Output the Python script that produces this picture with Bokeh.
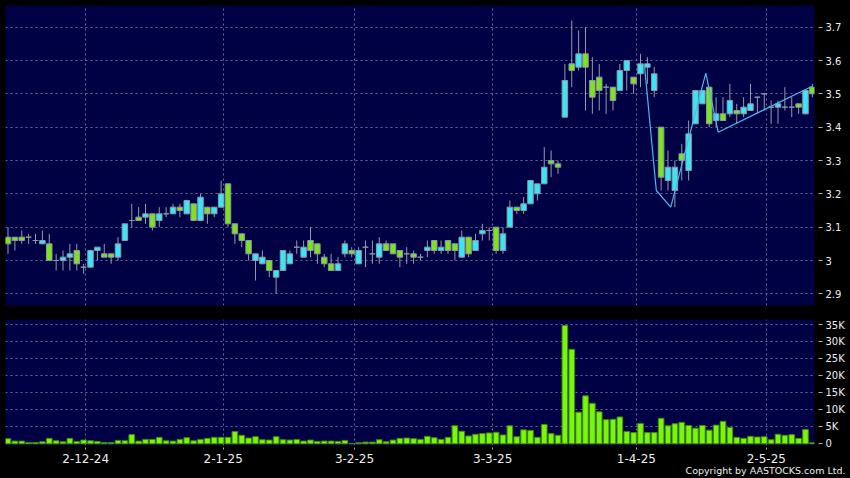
from bokeh.plotting import figure
from bokeh.layouts import column
from bokeh.models import Range1d, FixedTicker, CustomJSTickFormatter, Title
from bokeh.embed import file_html
from bokeh.resources import INLINE

# ---------------- data ----------------
opens = [3.07, 3.07, 3.07, 3.07, 3.06, 3.05, 3.05, 3.00, 3.00, 3.01,
         3.03, 2.98, 2.98, 3.03, 3.02, 3.02, 3.01, 3.06, 3.12, 3.13,
         3.13, 3.14, 3.12, 3.14, 3.14, 3.16, 3.14, 3.17, 3.12, 3.16,
         3.14, 3.16, 3.23, 3.11, 3.08, 3.06, 3.00, 2.99, 3.00, 2.95,
         2.97, 2.99, 3.04, 3.01, 3.06, 3.05, 3.01, 2.99, 2.97, 3.02,
         3.03, 2.99, 3.04, 3.02, 3.01, 3.05, 3.05, 3.03, 3.02, 3.02,
         3.01, 3.03, 3.06, 3.03, 3.06, 3.05, 3.01, 3.07, 3.03, 3.08,
         3.09, 3.10, 3.03, 3.10, 3.16, 3.15, 3.17, 3.20, 3.23, 3.30,
         3.29, 3.43, 3.59, 3.58, 3.62, 3.54, 3.55, 3.52, 3.52, 3.51,
         3.57, 3.55, 3.56, 3.58, 3.51, 3.40, 3.24, 3.21, 3.32, 3.27,
         3.41, 3.47, 3.52, 3.42, 3.44, 3.44, 3.45, 3.44, 3.45, 3.49,
         3.50, 3.46, 3.46, 3.46, 3.46, 3.47, 3.44, 3.52]
highs = [3.10, 3.07, 3.09, 3.08, 3.08, 3.09, 3.08, 3.02, 3.03, 3.05,
         3.05, 2.99, 3.03, 3.04, 3.05, 3.02, 3.07, 3.11, 3.17, 3.16,
         3.17, 3.14, 3.16, 3.16, 3.17, 3.17, 3.18, 3.17, 3.20, 3.16,
         3.16, 3.24, 3.23, 3.11, 3.08, 3.06, 3.02, 3.03, 3.00, 2.97,
         3.03, 3.03, 3.06, 3.06, 3.10, 3.05, 3.02, 3.02, 3.01, 3.06,
         3.04, 3.04, 3.06, 3.06, 3.07, 3.06, 3.05, 3.03, 3.04, 3.03,
         3.02, 3.06, 3.06, 3.06, 3.06, 3.05, 3.09, 3.07, 3.08, 3.11,
         3.10, 3.10, 3.10, 3.18, 3.16, 3.19, 3.24, 3.23, 3.34, 3.33,
         3.30, 3.59, 3.72, 3.69, 3.70, 3.61, 3.59, 3.53, 3.52, 3.59,
         3.60, 3.55, 3.62, 3.61, 3.58, 3.40, 3.33, 3.30, 3.35, 3.42,
         3.51, 3.51, 3.52, 3.49, 3.49, 3.53, 3.47, 3.49, 3.53, 3.49,
         3.50, 3.48, 3.48, 3.52, 3.49, 3.47, 3.51, 3.53]
lows = [3.02, 3.03, 3.05, 3.05, 3.05, 3.05, 3.00, 2.97, 2.97, 2.97,
        2.97, 2.96, 2.98, 3.00, 3.01, 2.99, 3.00, 3.06, 3.10, 3.12,
        3.11, 3.09, 3.10, 3.13, 3.14, 3.13, 3.14, 3.12, 3.12, 3.11,
        3.13, 3.16, 3.10, 3.05, 3.04, 3.00, 2.94, 2.99, 2.95, 2.90,
        2.97, 2.99, 3.02, 3.01, 3.01, 2.99, 2.98, 2.97, 2.97, 3.01,
        3.01, 2.99, 2.98, 2.99, 2.99, 3.03, 3.02, 2.98, 2.99, 2.99,
        3.00, 3.01, 3.02, 3.02, 3.02, 3.00, 3.01, 3.01, 3.03, 3.06,
        3.06, 3.02, 3.02, 3.10, 3.14, 3.14, 3.17, 3.18, 3.23, 3.25,
        3.26, 3.43, 3.52, 3.57, 3.45, 3.44, 3.45, 3.44, 3.45, 3.51,
        3.51, 3.50, 3.52, 3.53, 3.49, 3.21, 3.21, 3.16, 3.24, 3.24,
        3.41, 3.47, 3.40, 3.40, 3.42, 3.43, 3.41, 3.43, 3.45, 3.44,
        3.45, 3.41, 3.41, 3.45, 3.43, 3.44, 3.44, 3.49]
closes = [3.05, 3.06, 3.06, 3.07, 3.06, 3.06, 3.00, 3.00, 3.01, 3.02,
          2.99, 2.98, 3.03, 3.04, 3.01, 3.01, 3.05, 3.11, 3.12, 3.12,
          3.14, 3.10, 3.14, 3.14, 3.16, 3.15, 3.18, 3.12, 3.19, 3.14,
          3.16, 3.20, 3.11, 3.08, 3.06, 3.02, 3.02, 3.01, 2.97, 2.97,
          3.03, 3.02, 3.04, 3.04, 3.03, 3.02, 2.99, 2.97, 2.99, 3.05,
          3.02, 3.03, 3.04, 3.02, 3.05, 3.03, 3.02, 3.01, 3.02, 3.01,
          3.01, 3.04, 3.03, 3.04, 3.03, 3.03, 3.07, 3.02, 3.06, 3.09,
          3.09, 3.03, 3.08, 3.16, 3.15, 3.17, 3.24, 3.23, 3.28, 3.29,
          3.28, 3.54, 3.57, 3.62, 3.58, 3.49, 3.51, 3.52, 3.48, 3.57,
          3.60, 3.53, 3.59, 3.59, 3.56, 3.25, 3.28, 3.28, 3.30, 3.38,
          3.51, 3.51, 3.41, 3.44, 3.42, 3.48, 3.44, 3.46, 3.47, 3.49,
          3.50, 3.46, 3.47, 3.46, 3.46, 3.46, 3.51, 3.50]
volumes = [1500, 800, 800, 400, 400, 600, 1600, 900, 600, 1600,
           700, 1100, 900, 700, 400, 400, 1000, 900, 2700, 800,
           1300, 1300, 1900, 900, 800, 1300, 1800, 900, 1300, 1600,
           1900, 1900, 1900, 3600, 2500, 1700, 2100, 1200, 1100, 2100,
           1200, 1100, 1300, 800, 1100, 700, 800, 800, 700, 1000,
           100, 300, 500, 500, 1200, 600, 1100, 1600, 1700, 1500,
           1300, 2200, 1800, 1300, 1900, 5300, 3700, 2300, 2800, 3000,
           3200, 3400, 2600, 5300, 2100, 4100, 3900, 1900, 5700, 3000,
           2500, 34800, 27800, 9300, 14100, 11900, 9400, 7100, 7200, 7900,
           3600, 3300, 6000, 3300, 3300, 7500, 5300, 5900, 6300, 5400,
           4600, 5400, 4000, 5500, 6600, 4800, 1900, 1600, 2200, 2000,
           2100, 1200, 2800, 2500, 2700, 1600, 4200, 300]

line_x = [92.6, 94.3, 96.4, 101.5, 103.3, 116.9]
line_y = [3.58, 3.21, 3.16, 3.562, 3.385, 3.522]

x_tick_pos = [11.3, 31.3, 50.4, 70.5, 91.4, 110.3]
x_tick_labels = ["2-12-24", "2-1-25", "3-2-25", "3-3-25", "1-4-25", "2-5-25"]
price_ticks = [2.9, 3.0, 3.1, 3.2, 3.3, 3.4, 3.5, 3.6, 3.7]
price_labels = ["2.9", "3", "3.1", "3.2", "3.3", "3.4", "3.5", "3.6", "3.7"]
vol_ticks = [0, 5000, 10000, 15000, 20000, 25000, 30000, 35000]
vol_labels = ["0", "5K", "10K", "15K", "20K", "25K", "30K", "35K"]
copyright_text = "Copyright by AASTOCKS.com Ltd."

# ---------------- style ----------------
NAVY = "#000044"
UP = "#3ae6f4"
DOWN = "#7ee21c"
OUTLINE = "#8a98a8"
WICK = "#9a9aa8"
GRID = "#6a6a96"
TEXT = "#eeeeee"
FONT = "DejaVu Sans"

idx = list(range(len(opens)))
tops = [max(o, c) for o, c in zip(opens, closes)]
bottoms = [min(o, c) for o, c in zip(opens, closes)]
fills = [UP if c > o else (DOWN if c < o else OUTLINE) for o, c in zip(opens, closes)]

NEAREST = """
let best = 0; let d = 1e9;
for (let k = 0; k < pos.length; k++) {
  const dd = Math.abs(pos[k] - tick);
  if (dd < d) { d = dd; best = k; }
}
return labels[best];
"""

xr = Range1d(-0.364, 117.31)


def style_axis(ax, size):
    ax.axis_line_color = None
    ax.major_tick_line_color = "#b0b0b0"
    ax.minor_tick_line_color = None
    ax.major_label_text_color = TEXT
    ax.major_label_text_font = FONT
    ax.major_label_text_font_size = size


def style_grid(g):
    g.grid_line_color = GRID
    g.grid_line_dash = "2 3"
    g.grid_line_width = 1


# ---------------- price panel ----------------
p1 = figure(frame_width=809, frame_height=300, x_range=xr,
            y_range=Range1d(2.865, 3.765),
            x_axis_location=None, y_axis_location="right",
            toolbar_location=None, output_backend="svg",
            background_fill_color=NAVY, border_fill_color="black",
            outline_line_color=None,
            min_border_left=5, min_border_top=5, min_border_bottom=14,
            min_border_right=36)
p1.yaxis.ticker = FixedTicker(ticks=price_ticks)
p1.yaxis.formatter = CustomJSTickFormatter(args=dict(pos=price_ticks, labels=price_labels), code=NEAREST)
style_axis(p1.yaxis[0], "10px")
p1.yaxis.major_tick_in = -4
p1.yaxis.major_tick_out = 8
p1.yaxis.major_label_standoff = 3
p1.xgrid.ticker = FixedTicker(ticks=x_tick_pos)
style_grid(p1.xgrid[0])
style_grid(p1.ygrid[0])

p1.segment(x0=idx, y0=lows, x1=idx, y1=highs, line_color=WICK, line_width=1)
p1.vbar(x=idx, width=0.8, top=tops, bottom=bottoms, fill_color=fills,
        line_color=OUTLINE, line_width=1)
p1.line(line_x, line_y, line_color="#4fb6ee", line_width=1.2)

# ---------------- volume panel ----------------
p2 = figure(frame_width=809, frame_height=126, x_range=xr,
            y_range=Range1d(-500, 36560),
            x_axis_location="below", y_axis_location="right",
            toolbar_location=None, output_backend="svg",
            background_fill_color=NAVY, border_fill_color="black",
            outline_line_color=None,
            min_border_left=5, min_border_top=0, min_border_bottom=33,
            min_border_right=36)
p2.yaxis.ticker = FixedTicker(ticks=vol_ticks)
p2.yaxis.formatter = CustomJSTickFormatter(args=dict(pos=vol_ticks, labels=vol_labels), code=NEAREST)
style_axis(p2.yaxis[0], "10px")
p2.yaxis.major_tick_in = -4
p2.yaxis.major_tick_out = 8
p2.yaxis.major_label_standoff = 3
p2.xaxis.ticker = FixedTicker(ticks=x_tick_pos)
p2.xaxis.formatter = CustomJSTickFormatter(args=dict(pos=x_tick_pos, labels=x_tick_labels), code=NEAREST)
style_axis(p2.xaxis[0], "12px")
p2.xaxis.major_tick_in = -2
p2.xaxis.major_tick_out = 4
p2.xaxis.major_label_standoff = 4
style_grid(p2.xgrid[0])
style_grid(p2.ygrid[0])

p2.vbar(x=idx, width=0.82, top=volumes, bottom=0, fill_color="#7af60e",
        line_color="#3f8a08", line_width=1)

# copyright note as a title panel below the date axis
p2.add_layout(Title(text=copyright_text, align="right", offset=-31,
                    standoff=-3, vertical_align="middle", text_font=FONT,
                    text_font_size="9.5px", text_font_style="normal",
                    text_color=TEXT), "below")

layout = column(p1, p2, spacing=0, styles={"background-color": "black"})

open("out.html", "w").write(file_html(layout, INLINE))
